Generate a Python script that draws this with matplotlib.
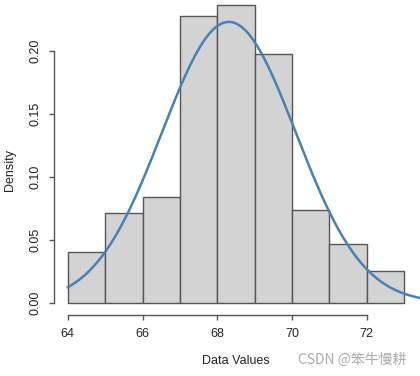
import numpy as np
import matplotlib
matplotlib.use("Agg")
import matplotlib.pyplot as plt

# histogram bins (density scale)
bin_edges = [64, 65, 66, 67, 68, 69, 70, 71, 72, 73]
densities = [0.040, 0.0714, 0.0839, 0.2278, 0.2363, 0.1976, 0.0736, 0.0466, 0.0252]

# normal density curve parameters (mean, sd of the data)
mu = 68.31
sd = 1.79

x_ticks = [64, 66, 68, 70, 72]
y_ticks = [0.00, 0.05, 0.10, 0.15, 0.20]

plt.rcParams['font.family'] = ['Liberation Sans', 'DejaVu Sans']

fig = plt.figure(figsize=(4.2, 3.76), dpi=100)
ax = fig.add_axes([0.1295, 0.1633, 0.8646, 0.8553])

widths = np.diff(bin_edges)
ax.bar(bin_edges[:-1], densities, width=widths, align='edge',
       color='#d3d3d3', edgecolor='#555555', linewidth=1.0)

xs = np.linspace(64, 73.4, 300)
ys = np.exp(-0.5 * ((xs - mu) / sd) ** 2) / (sd * np.sqrt(2 * np.pi))
ax.plot(xs, ys, color='#4682b4', linewidth=1.8, clip_on=False)

ax.set_xlim(63.64, 73.36)
ax.set_ylim(-0.00945, 0.2458)

for s in ['top', 'right']:
    ax.spines[s].set_visible(False)
ax.spines['left'].set_bounds(0, 0.2)
ax.spines['bottom'].set_bounds(64, 72)
for s in ['left', 'bottom']:
    ax.spines[s].set_color('#555555')
    ax.spines[s].set_linewidth(1.0)

ax.set_xticks(x_ticks)
ax.set_xticklabels([str(t) for t in x_ticks])
ax.set_yticks(y_ticks)
ax.set_yticklabels(['%.2f' % t for t in y_ticks], rotation=90, va='center')
ax.tick_params(axis='both', length=3.6, width=1.0, color='#555555',
               labelsize=9, labelcolor='#222222', pad=6)

fig.text(236 / 420, 1 - 361 / 376, 'Data Values', ha='center', va='center',
         fontsize=9, color='#222222')
fig.text(10 / 420, 1 - 170 / 376, 'Density', ha='center', va='center',
         rotation=90, fontsize=9, color='#222222')

fig.text(406 / 420, 1 - 360 / 376, 'CSDN @笨牛慢耕', ha='right', va='center',
         fontsize=10, color='#aaaaaa', family=['Noto Sans CJK SC', 'DejaVu Sans'])

fig.savefig('out.png', dpi=100)
